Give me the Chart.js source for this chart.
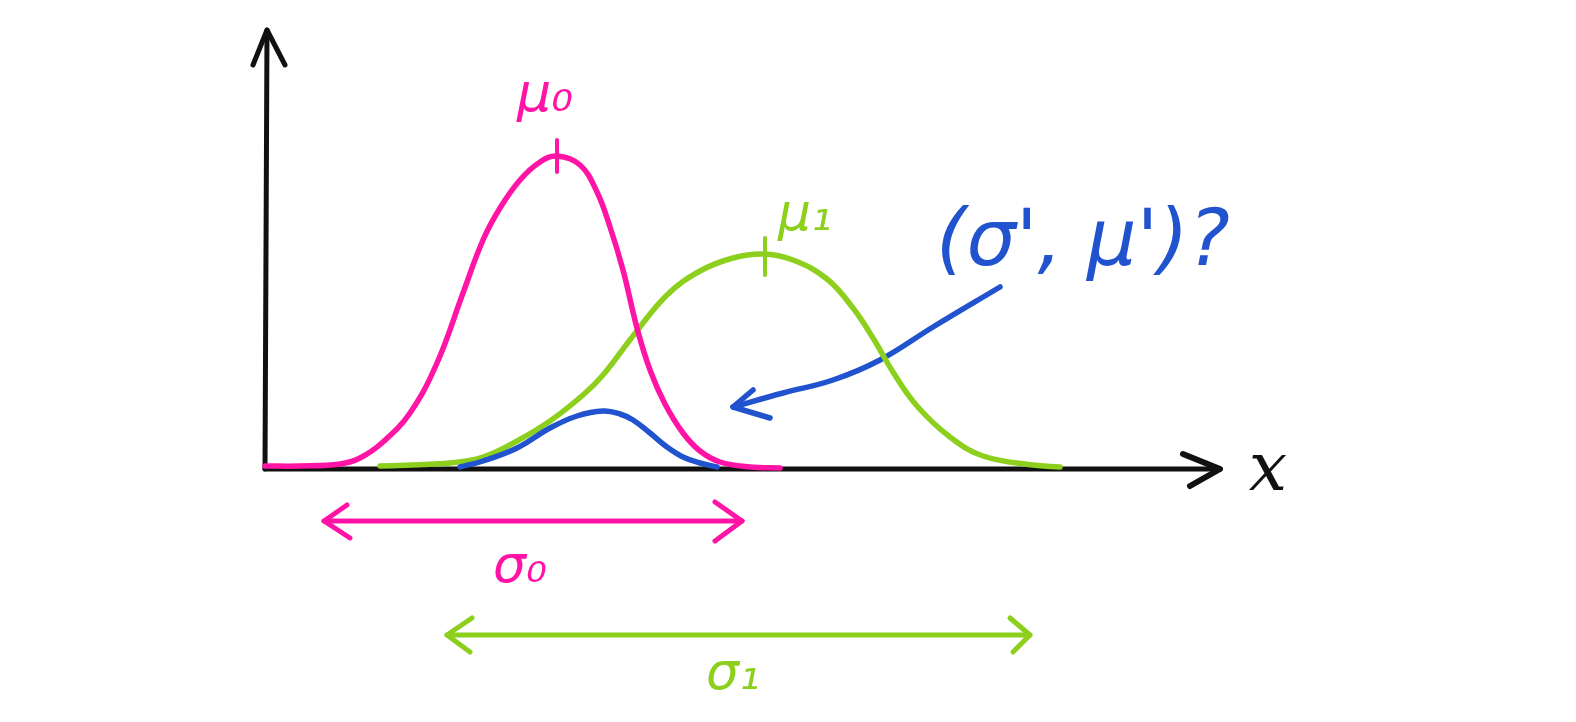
<!DOCTYPE html>
<html>
<head>
<meta charset="utf-8">
<script src="https://cdn.jsdelivr.net/npm/chart.js@4.4.0/dist/chart.umd.min.js"></script>
<style>
  html, body { margin: 0; padding: 0; background: #fff; }
  canvas { display: block; }
</style>
</head>
<body>
<canvas id="chart1" width="1576" height="722"></canvas>
<script>
// values: x = distance right of the y axis, y = height above the x axis

const pinkX = [0, 35, 75, 95, 118, 145, 172, 198, 218, 235, 255, 275, 292, 315, 332, 345, 358, 372, 385, 400, 418, 435, 455, 485, 515];
const pinkY = [3, 3, 5, 11, 27, 56, 106, 176, 229, 261, 289, 307, 313, 304, 277, 242, 199, 141, 99, 65, 36, 18, 7, 2, 1];

const greenX = [115, 185, 218, 252, 285, 318, 338, 368, 402, 435, 468, 498, 528, 562, 588, 608, 628, 652, 685, 718, 768, 795];
const greenY = [3, 6, 12, 28, 48, 74, 94, 133, 174, 198, 211, 215, 209, 190, 161, 131, 97, 63, 32, 13, 4, 2];

const blueX = [195, 218, 252, 285, 312, 338, 355, 368, 385, 402, 418, 435, 452];
const blueY = [2, 8, 21, 41, 53, 58, 55, 49, 36, 22, 12, 6, 2];

// pointer from the question to the small curve
const pointerX = [468, 518, 568, 615, 668, 735];
const pointerY = [62, 76, 89, 109, 142, 182];
const pointerHeadX = [488, 468, 505];
const pointerHeadY = [79, 62, 51];

// axes
const yAxisX = [0, 2];
const yAxisY = [0, 439];
const yHeadX = [-12, 2, 20];
const yHeadY = [404, 439, 404];
const xAxisX = [0, 955];
const xAxisY = [0, 0];
const xHeadX = [918, 955, 925];
const xHeadY = [15, 0, -17];

// peak marks
const pinkTickX = [292, 292];
const pinkTickY = [297, 329];
const greenTickX = [500, 500];
const greenTickY = [194, 231];

// spread arrows
const pinkSpanX = [59, 477];
const pinkSpanY = [-52, -52];
const pinkLeftX = [82, 59, 85];
const pinkLeftY = [-36, -52, -69];
const pinkRightX = [450, 477, 450];
const pinkRightY = [-33, -52, -72];

const greenSpanX = [182, 765];
const greenSpanY = [-166, -166];
const greenLeftX = [207, 182, 205];
const greenLeftY = [-149, -166, -183];
const greenRightX = [745, 765, 748];
const greenRightY = [-149, -166, -183];

// labels
const labelText = ["μ₀", "μ₁", "(σ', μ')?", "x", "σ₀", "σ₁"];
const labelX = [280, 540, 818, 1003, 255, 468];
const labelY = [372, 253, 224, -3, -99, -206];

const pink = "#ff14a5";
const green = "#8ccf1c";
const blue = "#2153cf";
const black = "#111111";

const labelStyle = [
  { color: pink, font: "italic 54px 'DejaVu Sans'" },
  { color: green, font: "italic 52px 'DejaVu Sans'" },
  { color: blue, font: "italic 78px 'DejaVu Sans'" },
  { color: black, font: "italic 68px 'DejaVu Serif'" },
  { color: pink, font: "italic 52px 'DejaVu Sans'" },
  { color: green, font: "italic 52px 'DejaVu Sans'" },
];

const pts = function (xs, ys) {
  return xs.map((x, i) => ({ x: x, y: ys[i] }));
};

const line = function (xs, ys, color, width, smooth) {
  return {
    data: pts(xs, ys),
    showLine: true,
    borderColor: color,
    borderWidth: width,
    pointRadius: 0,
    fill: false,
    borderCapStyle: "round",
    borderJoinStyle: "round",
    tension: smooth ? 0.4 : 0,
  };
};

const textPlugin = {
  id: "sketchText",
  afterDatasetsDraw(chart) {
    const ctx = chart.ctx;
    const sx = chart.scales.x;
    const sy = chart.scales.y;
    labelText.forEach((t, i) => {
      ctx.save();
      ctx.fillStyle = labelStyle[i].color;
      ctx.font = labelStyle[i].font;
      ctx.textAlign = "center";
      ctx.textBaseline = "middle";
      ctx.fillText(t, sx.getPixelForValue(labelX[i]), sy.getPixelForValue(labelY[i]));
      ctx.restore();
    });
  },
};

const datasets = [
  line(pinkX, pinkY, pink, 5.5, true),
  line(pinkTickX, pinkTickY, pink, 4),
  line(blueX, blueY, blue, 5.5, true),
  line(greenX, greenY, green, 5.5, true),
  line(greenTickX, greenTickY, green, 4),
  line(pointerX, pointerY, blue, 5.5, true),
  line(pointerHeadX, pointerHeadY, blue, 5.5),
  line(yAxisX, yAxisY, black, 5),
  line(yHeadX, yHeadY, black, 5),
  line(xAxisX, xAxisY, black, 5),
  line(xHeadX, xHeadY, black, 6),
  line(pinkSpanX, pinkSpanY, pink, 5),
  line(pinkLeftX, pinkLeftY, pink, 5),
  line(pinkRightX, pinkRightY, pink, 5),
  line(greenSpanX, greenSpanY, green, 5),
  line(greenLeftX, greenLeftY, green, 5),
  line(greenRightX, greenRightY, green, 5),
];

const chart = new Chart(document.getElementById("chart1"), {
  type: "scatter",
  data: { datasets: datasets },
  options: {
    responsive: false,
    animation: false,
    layout: { padding: 0 },
    plugins: {
      legend: { display: false },
      tooltip: { enabled: false },
    },
    scales: {
      x: { type: "linear", min: -265, max: 1311, display: false },
      y: { type: "linear", min: -253, max: 469, display: false },
    },
  },
  plugins: [textPlugin],
});
</script>
</body>
</html>
